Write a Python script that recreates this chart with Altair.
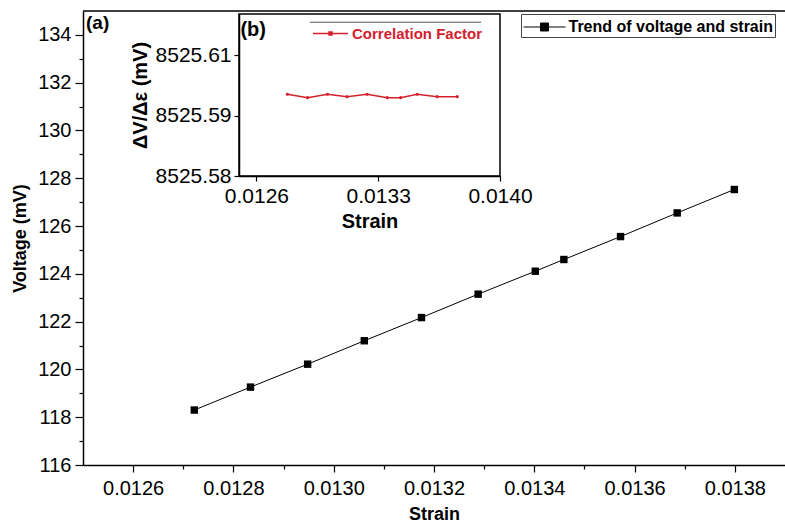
import altair as alt
import pandas as pd

# ---------------- data ----------------
strain = [0.012722, 0.012834, 0.012948, 0.013061, 0.013175, 0.013288,
          0.013402, 0.013459, 0.013572, 0.013685, 0.013799]
voltage = [118.30, 119.26, 120.22, 121.20, 122.17, 123.15,
           124.11, 124.60, 125.56, 126.55, 127.53]

inset_strain = [0.012778, 0.012894, 0.013009, 0.013121, 0.013236,
                0.013352, 0.013429, 0.013524, 0.013639, 0.013754]
inset_factor = [8525.5969, 8525.5962, 8525.5969, 8525.5964, 8525.5969,
                8525.5962, 8525.5962, 8525.5969, 8525.5964, 8525.5964]

main_x_ticks = [0.0126, 0.0127, 0.0128, 0.0129, 0.0130, 0.0131, 0.0132,
                0.0133, 0.0134, 0.0135, 0.0136, 0.0137, 0.0138]
main_y_ticks = [116, 117, 118, 119, 120, 121, 122, 123, 124, 125, 126,
                127, 128, 129, 130, 131, 132, 133, 134]
inset_x_ticks = [0.0126, 0.0133, 0.0140]
inset_y_ticks = [8525.58, 8525.5925, 8525.605]

main_x_domain = [0.0125, 0.0139]
main_y_domain = [116, 135]
inset_x_domain = [0.0125, 0.0140]
inset_y_domain = [8525.58, 8525.6135]

# inset legend frame line (top edge), in inset data units
inset_legend_line_x = [0.012907, 0.013891]
inset_legend_line_y = [8525.6118]

main_series = "Trend of voltage and strain"
inset_series = "Correlation Factor"
RED = "#d4202c"
FONT = "Liberation Sans"

# ---------------- main plot ----------------
main_df = pd.DataFrame({"x": strain, "y": voltage, "s": main_series})
a_df = pd.DataFrame({"x": [0.012506], "y": [134.5], "label": ["(a)"]})
top_df = pd.DataFrame({"x": [main_x_domain[0]], "x2": [main_x_domain[1]],
                       "y": [main_y_domain[1]]})

main_x = alt.X(
    "x:Q",
    scale=alt.Scale(domain=main_x_domain, nice=False, zero=False),
    axis=alt.Axis(
        values=main_x_ticks, orient="bottom", title="Strain",
        labelExpr="(round(datum.value*10000) % 2 == 0) ? format(datum.value, '.4f') : ''",
        tickSize={"condition": {"test": "round(datum.value*10000) % 2 == 0", "value": 7}, "value": 4},
        labelFontSize=20, labelPadding=6, labelOverlap=False, labelFlush=False,
        titleFontSize=18, titlePadding=7, grid=False,
    ),
)
main_y = alt.Y(
    "y:Q",
    scale=alt.Scale(domain=main_y_domain, nice=False, zero=False),
    axis=alt.Axis(
        values=main_y_ticks, orient="left", title="Voltage (mV)",
        labelExpr="(round(datum.value) % 2 == 0) ? format(datum.value, 'd') : ''",
        tickSize={"condition": {"test": "round(datum.value) % 2 == 0", "value": 8}, "value": 4},
        labelFontSize=20, labelPadding=4, labelOverlap=False, labelFlush=False,
        titleFontSize=18, titlePadding=8, grid=False,
    ),
)

main_line = alt.Chart(main_df).mark_line(
    strokeWidth=1, point=alt.OverlayMarkDef(shape="square", size=55, filled=True, opacity=1)
).encode(
    x=main_x, y=main_y,
    color=alt.Color(
        "s:N",
        scale=alt.Scale(domain=[main_series], range=["black"]),
        legend=alt.Legend(
            orient="none", legendX=438, legendY=3, title=None,
            symbolType="M-2,0H2M-0.38,-0.38H0.38V0.38H-0.38Z",
            symbolSize=441, symbolStrokeWidth=1, symbolOffset=10.5,
            symbolFillColor="black", symbolStrokeColor="black",
            labelFont=FONT, labelFontSize=16, labelFontWeight="bold",
            labelColor="black", labelLimit=400, labelOffset=13,
            padding=2, strokeColor="#444444",
        ),
    ),
)

a_text = alt.Chart(a_df).mark_text(
    font=FONT, fontSize=19, fontWeight="bold", align="left", baseline="middle", color="black"
).encode(x=main_x, y=main_y, text="label:N")

top_rule = alt.Chart(top_df).mark_rule(color="black", strokeWidth=1.5).encode(
    x=main_x, x2="x2:Q", y=main_y
)

main_layer = alt.layer(main_line, a_text, top_rule)

# ---------------- inset ----------------
inset_df = pd.DataFrame({"x": inset_strain, "y": inset_factor, "s": inset_series})
frame_df = pd.DataFrame({"x": [inset_x_domain[0]], "x2": [inset_x_domain[1]],
                         "y": [inset_y_domain[0]], "y2": [inset_y_domain[1]]})
b_df = pd.DataFrame({"x": [0.012508], "y": [8525.6101], "label": ["(b)"]})
leg_line_df = pd.DataFrame({"x": [inset_legend_line_x[0]], "x2": [inset_legend_line_x[1]],
                            "y": inset_legend_line_y})

inset_x = alt.X(
    "x:Q",
    scale=alt.Scale(domain=inset_x_domain, range=[156, 417], nice=False, zero=False),
    axis=alt.Axis(
        values=inset_x_ticks, format=".4f", orient="bottom", offset=-289,
        title="Strain", labelFontSize=21, labelPadding=4, tickSize=5,
        labelOverlap=False, labelFlush=False,
        titleFontSize=20, titlePadding=5, grid=False,
    ),
)
inset_y = alt.Y(
    "y:Q",
    scale=alt.Scale(domain=inset_y_domain, range=[165, 3], nice=False, zero=False),
    axis=alt.Axis(
        values=inset_y_ticks, orient="left", offset=-156,
        labelExpr="datum.value < 8525.586 ? '8525.58' : (datum.value < 8525.6 ? '8525.59' : '8525.61')",
        title="ΔV/Δε (mV)", labelFontSize=21, labelPadding=3, tickSize=5,
        labelOverlap=False, labelFlush=False,
        titleFontSize=20, titlePadding=5, grid=False,
    ),
)

inset_line = alt.Chart(inset_df).mark_line(
    strokeWidth=1.5, point=alt.OverlayMarkDef(size=10, filled=True, opacity=1)
).encode(
    x=inset_x, y=inset_y,
    color=alt.Color(
        "s:N",
        scale=alt.Scale(domain=[inset_series], range=[RED]),
        legend=alt.Legend(
            orient="none", legendX=229, legendY=14, title=None,
            symbolType="M-2.33,0H2.33M-0.2,-0.2H0.2V0.2H-0.2Z",
            symbolSize=225, symbolStrokeWidth=1.5, symbolOffset=10,
            symbolFillColor=RED, symbolStrokeColor=RED,
            labelFont=FONT, labelFontSize=15, labelFontWeight="bold",
            labelColor=RED, labelLimit=400, labelOffset=13, padding=0,
        ),
    ),
)

inset_frame = alt.Chart(frame_df).mark_rect(
    fillOpacity=0, stroke="black", strokeWidth=1.5
).encode(x=inset_x, x2="x2:Q", y=inset_y, y2="y2:Q")

leg_line = alt.Chart(leg_line_df).mark_rule(color="#555555", strokeWidth=1).encode(
    x=inset_x, x2="x2:Q", y=inset_y
)

b_text = alt.Chart(b_df).mark_text(
    font=FONT, fontSize=20, fontWeight="bold", align="left", baseline="middle", color="black"
).encode(x=inset_x, y=inset_y, text="label:N")

inset_layer = alt.layer(inset_frame, inset_line, leg_line, b_text)

chart = alt.layer(main_layer, inset_layer).resolve_scale(
    x="independent", y="independent", color="independent"
).properties(
    width=702, height=454,
    autosize=alt.AutoSizeParams(type="none"),
    padding={"left": 83, "top": 11, "right": 0, "bottom": 60},
    background="white",
).configure_view(
    stroke=None
).configure_axis(
    labelFont=FONT, titleFont=FONT, titleFontWeight="bold",
    labelColor="black", titleColor="black",
    domainColor="black", domainWidth=1.5, tickColor="black", tickWidth=1.2,
)

chart.save("out.html", embed_options={"renderer": "svg", "actions": False})
